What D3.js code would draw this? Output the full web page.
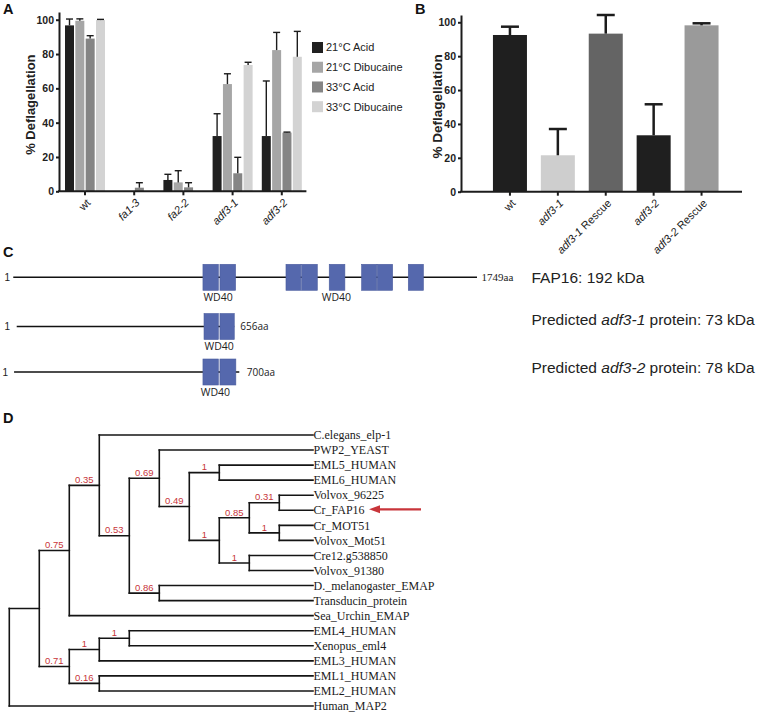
<!DOCTYPE html>
<html><head><meta charset="utf-8">
<script src="https://cdn.jsdelivr.net/npm/d3@7"></script>
<style>body{margin:0;background:#fff} svg{display:block}</style>
</head><body>
<svg id="c" width="757" height="712"></svg>
<script>
// ---------- Panel A data ----------
const aCategories = ["wt", "fa1-3", "fa2-2", "adf3-1", "adf3-2"];
const aItalic = [false, true, true, true, true];
const aSeries = ["21°C Acid", "21°C Dibucaine", "33°C Acid", "33°C Dibucaine"];
const acid21 = [96.7, 0, 6.6, 32.2, 32.2];
const acid21Err = [3.7, 0, 3.3, 13, 32.1];
const dib21 = [99.4, 0, 5.2, 62.5, 82.3];
const dib21Err = [1.1, 0, 6.8, 6, 10.3];
const acid33 = [89, 2.1, 2.3, 10.5, 34.2];
const acid33Err = [1.7, 2.9, 2.7, 9.3, 0.3];
const dib33 = [99.8, 0, 0, 73.6, 78.4];
const dib33Err = [0.4, 0, 0, 1.6, 14.8];
const aYTicks = [0, 20, 40, 60, 80, 100];

// ---------- Panel B data ----------
const bCategories = ["wt", "adf3-1", "adf3-1 Rescue", "adf3-2", "adf3-2 Rescue"];
const bValues = [92.5, 21.5, 93.3, 33.3, 98.2];
const bErr = [4.9, 15.5, 11, 18.3, 1.2];
const bYTicks = [0, 20, 40, 60, 80, 100];

// ---------- Panel C data (schematic positions, aa-like units) ----------
const cRowStart = [1, 14, 4];
const cRowEnd = [1749, 834, 853];
const cRowEndLabel = ["1749aa", "656aa", "700aa"];
const cDomainsRow1 = [[716, 774], [780, 839], [1029, 1085], [1088, 1147], [1192, 1251], [1314, 1371], [1373, 1431], [1490, 1547]];
const cDomainsRow2 = [[720, 774], [780, 834]];
const cDomainsRow3 = [[716, 774], [780, 840]];
const cWD40Row1 = [773, 1219];
const cWD40Row2 = [777];
const cWD40Row3 = [763];

// ---------- Panel D data ----------
const treeNewick = "((((C.elegans_elp-1,((PWP2_YEAST,((EML5_HUMAN,EML6_HUMAN)1,(((Volvox_96225,Cr_FAP16)0.31,(Cr_MOT51,Volvox_Mot51)1)0.85,(Cre12.g538850,Volvox_91380)1)1)0.49)0.69,(D._melanogaster_EMAP,Transducin_protein)0.86)0.53)0.35,Sea_Urchin_EMAP)0.75,(((EML4_HUMAN,Xenopus_eml4)1,EML3_HUMAN)1,(EML1_HUMAN,EML2_HUMAN)0.16)0.71),Human_MAP2);";
const markedLeaf = "Cr_FAP16";

// ======================================================
const svg = d3.select("#c");
const SANS = "'Liberation Sans', Arial, Helvetica, sans-serif";
const INK = "#1c1c1c";

// panel letters
[["A", 3, 13.5], ["B", 415, 13.5], ["C", 3, 256.5], ["D", 3, 423]].forEach(([t, x, y]) => {
  svg.append("text").attr("x", x).attr("y", y).text(t)
    .attr("font-family", SANS).attr("font-weight", "bold").attr("font-size", 14.5).attr("fill", "#111");
});

function styleYAxis(g) {
  g.select(".domain").attr("stroke", INK).attr("stroke-width", 2);
  g.selectAll(".tick line").attr("stroke", INK).attr("stroke-width", 2);
  g.selectAll(".tick text").attr("font-family", SANS).attr("font-weight", "bold")
    .attr("font-size", 10.5).attr("fill", "#222");
}

function catLabel(sel, name, italic) {
  const m = name.match(/^(adf3-\d)(.*)$/);
  if (m) {
    sel.append("tspan").attr("font-style", "italic").text(m[1]);
    if (m[2]) sel.append("tspan").text(m[2]);
  } else {
    sel.append("tspan").attr("font-style", italic ? "italic" : "normal").text(name);
  }
}

// ================= Panel A =================
const yA = d3.scaleLinear().domain([0, 104.5]).range([191.3, 12]);
const xA = d3.scaleBand().domain(aCategories).range([60.4, 306.4]).paddingInner(0.187).paddingOuter(0.0935);
const xAs = d3.scaleBand().domain(aSeries).range([0, xA.bandwidth()]).paddingInner(0.13);
const aColors = d3.scaleOrdinal().domain(aSeries).range(["#202020", "#a6a6a6", "#858585", "#d3d3d3"]);
const aVals = [acid21, dib21, acid33, dib33];
const aErrs = [acid21Err, dib21Err, acid33Err, dib33Err];

const gA = svg.append("g");
aSeries.forEach((s, j) => {
  aCategories.forEach((c, i) => {
    const v = aVals[j][i], e = aErrs[j][i];
    const x = xA(c) + xAs(s);
    if (v > 0) {
      gA.append("rect").attr("x", x).attr("y", yA(v)).attr("width", xAs.bandwidth())
        .attr("height", yA(0) - yA(v)).attr("fill", aColors(s));
    }
    if (e > 0 || v > 0) {
      const cx = x + xAs.bandwidth() / 2;
      if (e > 0.2) gA.append("line").attr("x1", cx).attr("x2", cx).attr("y1", yA(v)).attr("y2", yA(v + e))
        .attr("stroke", INK).attr("stroke-width", 1.4);
      gA.append("line").attr("x1", cx - 3.5).attr("x2", cx + 3.5).attr("y1", yA(v + e)).attr("y2", yA(v + e))
        .attr("stroke", INK).attr("stroke-width", 1.4);
    }
  });
});

const axA = gA.append("g").attr("transform", "translate(59,0)")
  .call(d3.axisLeft(yA).tickValues(aYTicks).tickSize(3).tickSizeOuter(0).tickPadding(2));
styleYAxis(axA);

const axAx = gA.append("g").attr("transform", `translate(0,${yA(0)})`)
  .call(d3.axisBottom(xA).tickSize(4).tickSizeOuter(0).tickFormat(""));
axAx.select(".domain").attr("d", "M58,0H306.4").attr("stroke", INK).attr("stroke-width", 2);
axAx.selectAll(".tick line").attr("stroke", INK).attr("stroke-width", 2);
aCategories.forEach((c, i) => {
  const t = gA.append("text")
    .attr("transform", `translate(${xA(c) + xA.bandwidth() / 2 + 3.5},${yA(0) + 9.5}) rotate(-45)`)
    .attr("text-anchor", "end").attr("dy", "0.35em")
    .attr("font-family", SANS).attr("font-size", 11).attr("fill", "#222");
  catLabel(t, c, aItalic[i]);
});

gA.append("text").attr("transform", `translate(35,${(yA(0) + yA(104.5)) / 2 + 3}) rotate(-90)`)
  .attr("text-anchor", "middle").attr("font-family", SANS).attr("font-weight", "bold")
  .attr("font-size", 13).attr("fill", "#222").text("% Deflagellation");

// legend
const legY = d3.scalePoint().domain(aSeries).range([47.5, 106.7]);
aSeries.forEach(s => {
  gA.append("rect").attr("x", 312).attr("y", legY(s) - 5.5).attr("width", 11).attr("height", 11).attr("fill", aColors(s));
  gA.append("text").attr("x", 326).attr("y", legY(s)).attr("dy", "0.35em")
    .attr("font-family", SANS).attr("font-size", 11).attr("fill", "#222").text(s);
});

// ================= Panel B =================
const yB = d3.scaleLinear().domain([0, 104.3]).range([191.7, 15]);
const xB = d3.scaleBand().domain(bCategories).range([486, 725.5]).paddingInner(0.29).paddingOuter(0.145);
const bColors = d3.scaleOrdinal().domain(bCategories).range(["#1f1f1f", "#cecece", "#646464", "#1f1f1f", "#9a9a9a"]);
const gB = svg.append("g");
bCategories.forEach((c, i) => {
  const v = bValues[i], e = bErr[i];
  gB.append("rect").attr("x", xB(c)).attr("y", yB(v)).attr("width", xB.bandwidth())
    .attr("height", yB(0) - yB(v)).attr("fill", bColors(c));
  const cx = xB(c) + xB.bandwidth() / 2;
  gB.append("line").attr("x1", cx).attr("x2", cx).attr("y1", yB(v)).attr("y2", yB(v + e))
    .attr("stroke", INK).attr("stroke-width", 2.5);
  gB.append("line").attr("x1", cx - 9).attr("x2", cx + 9).attr("y1", yB(v + e)).attr("y2", yB(v + e))
    .attr("stroke", INK).attr("stroke-width", 2.5);
});
const axB = gB.append("g").attr("transform", "translate(461,0)")
  .call(d3.axisLeft(yB).tickValues(bYTicks).tickSize(3).tickSizeOuter(0).tickPadding(2));
styleYAxis(axB);
const axBx = gB.append("g").attr("transform", `translate(0,${yB(0)})`)
  .call(d3.axisBottom(xB).tickSize(4).tickSizeOuter(0).tickFormat(""));
axBx.select(".domain").attr("d", "M460,0H742").attr("stroke", INK).attr("stroke-width", 2);
axBx.selectAll(".tick line").attr("stroke", INK).attr("stroke-width", 2);
bCategories.forEach(c => {
  const t = gB.append("text")
    .attr("transform", `translate(${xB(c) + xB.bandwidth() / 2 + 3.5},${yB(0) + 9.5}) rotate(-45)`)
    .attr("text-anchor", "end").attr("dy", "0.35em")
    .attr("font-family", SANS).attr("font-size", 11).attr("fill", "#222");
  catLabel(t, c, false);
});
gB.append("text").attr("transform", `translate(441.5,${(yB(0) + yB(104.3)) / 2 + 3}) rotate(-90)`)
  .attr("text-anchor", "middle").attr("font-family", SANS).attr("font-weight", "bold")
  .attr("font-size", 13.5).attr("fill", "#222").text("% Deflagellation");

// ================= Panel C =================
const xC = d3.scaleLinear().domain([0, 1749]).range([13, 477]);
const rowYs = [277.3, 326.5, 372];
const gC = svg.append("g");
const CAL = "'Open Sans', 'Noto Sans', sans-serif";
const doms = [cDomainsRow1, cDomainsRow2, cDomainsRow3];
const wds = [cWD40Row1, cWD40Row2, cWD40Row3];
[0, 1, 2].forEach(r => {
  const y = rowYs[r];
  gC.append("text").attr("x", r === 2 ? 2.5 : 4.5).attr("y", y).attr("dy", "0.35em")
    .attr("font-family", SANS).attr("font-size", 10).attr("fill", "#222").text("1");
  gC.append("line").attr("x1", xC(cRowStart[r])).attr("x2", xC(cRowEnd[r])).attr("y1", y).attr("y2", y)
    .attr("stroke", "#111").attr("stroke-width", 1.6);
  doms[r].forEach(d => {
    gC.append("rect").attr("x", xC(d[0])).attr("y", y - 13).attr("width", xC(d[1]) - xC(d[0])).attr("height", 26)
      .attr("fill", "#5568ad").attr("stroke", "#4b5d9e").attr("stroke-width", 0.6);
  });
  wds[r].forEach(w => {
    gC.append("text").attr("x", xC(w)).attr("y", y + 23.5).attr("text-anchor", "middle")
      .attr("font-family", CAL).attr("font-size", 10.5).attr("fill", "#222").text("WD40");
  });
  if (r === 0) {
    gC.append("text").attr("x", xC(cRowEnd[r]) + 4.5).attr("y", y).attr("dy", "0.35em")
      .attr("font-family", "'Liberation Serif', serif").attr("font-size", 11).attr("fill", "#222").text(cRowEndLabel[r]);
  } else {
    gC.append("text").attr("x", xC(cRowEnd[r]) + (r === 1 ? 6 : 7.5)).attr("y", y).attr("dy", "0.35em")
      .attr("font-family", CAL).attr("font-size", 10).attr("fill", "#222").text(cRowEndLabel[r]);
  }
});
const ct1 = gC.append("text").attr("x", 531.5).attr("y", 282.5).attr("font-family", SANS).attr("font-size", 15.5).attr("fill", "#222");
ct1.append("tspan").text("FAP16: 192 kDa");
[["adf3-1", "73", 324.5], ["adf3-2", "78", 373]].forEach(([n, k, y]) => {
  const t = gC.append("text").attr("x", 531.5).attr("y", y).attr("font-family", SANS).attr("font-size", 15.5).attr("fill", "#222");
  t.append("tspan").text("Predicted ");
  t.append("tspan").attr("font-style", "italic").text(n);
  t.append("tspan").text(` protein: ${k} kDa`);
});

// ================= Panel D =================
function parseNewick(s) {
  let i = 0;
  function node() {
    const n = {};
    if (s[i] === "(") {
      i++;
      n.children = [node()];
      while (s[i] === ",") { i++; n.children.push(node()); }
      i++;
    }
    let lab = "";
    while (i < s.length && !",();".includes(s[i])) lab += s[i++];
    if (n.children) n.support = lab; else n.name = lab;
    return n;
  }
  return node();
}
const root = d3.hierarchy(parseNewick(treeNewick));
const leaves = root.leaves();
const yD = d3.scalePoint().domain(leaves.map(d => d.data.name)).range([435, 706]);
const xD = d3.scaleLinear().domain([0, 10]).range([9.3, 309.3]);
const leafX = 313;
root.eachAfter(n => {
  if (!n.children) { n.py = yD(n.data.name); n.px = leafX; }
  else { n.py = (n.children[0].py + n.children[n.children.length - 1].py) / 2; n.px = xD(n.depth); }
});
const gD = svg.append("g");
const TS = "#141414";
root.each(n => {
  if (n.children) {
    gD.append("line").attr("x1", n.px).attr("x2", n.px)
      .attr("y1", n.children[0].py).attr("y2", n.children[n.children.length - 1].py)
      .attr("stroke", TS).attr("stroke-width", 1.6).attr("stroke-linecap", "square");
  }
  if (n.parent) {
    gD.append("line").attr("x1", n.parent.px).attr("x2", n.px).attr("y1", n.py).attr("y2", n.py)
      .attr("stroke", TS).attr("stroke-width", 1.6).attr("stroke-linecap", "square");
    if (n.children && n.data.support) {
      gD.append("text").attr("x", (n.parent.px + n.px) / 2).attr("y", n.py - 2.3)
        .attr("text-anchor", "middle").attr("font-family", SANS).attr("font-size", 9.5)
        .attr("fill", "#c8353a").text(n.data.support);
    }
  }
  if (!n.children) {
    gD.append("text").attr("x", leafX + 0.5).attr("y", n.py).attr("dy", "0.35em")
      .attr("font-family", "'Liberation Serif', 'Times New Roman', serif").attr("font-size", 12)
      .attr("fill", "#1a1a1a").text(n.data.name);
  }
});
// arrow
const ay = yD(markedLeaf) - 1;
gD.append("line").attr("x1", 421).attr("x2", 378).attr("y1", ay).attr("y2", ay)
  .attr("stroke", "#c8353a").attr("stroke-width", 2.2);
gD.append("path").attr("d", `M369,${ay}L380,${ay - 4}L380,${ay + 4}Z`).attr("fill", "#c8353a");
</script>
</body></html>
